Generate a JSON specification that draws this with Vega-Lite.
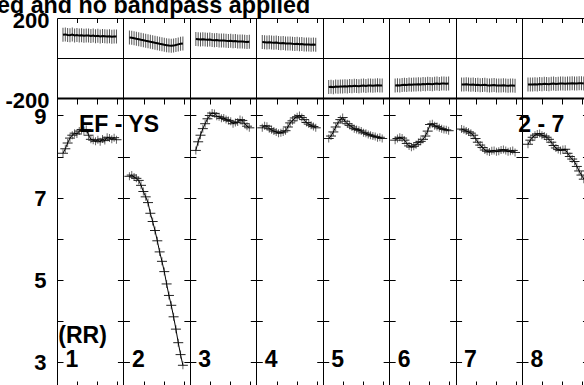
{
 "$schema": "https://vega.github.io/schema/vega-lite/v6.json",
 "width": 527,
 "height": 367,
 "autosize": {"type": "none"},
 "padding": {"left": 57, "top": 18, "right": 0, "bottom": 0},
 "title": {"text": "ed and no bandpass applied", "anchor": "start", "frame": "group", "dx": -60, "dy": 27, "offset": 0, "baseline": "alphabetic", "font": "Liberation Sans", "fontSize": 23.3, "fontWeight": "bold", "color": "black"},
 "datasets": {
  "obs": [
   {"p":1,"t":0.09,"a":8.08,"ph":116},{"p":1,"t":0.125,"a":8.19,"ph":118},{"p":1,"t":0.16,"a":8.33,"ph":115},{"p":1,"t":0.195,"a":8.45,"ph":114},{"p":1,"t":0.23,"a":8.52,"ph":117},{"p":1,"t":0.265,"a":8.57,"ph":113},{"p":1,"t":0.3,"a":8.55,"ph":115},{"p":1,"t":0.335,"a":8.62,"ph":112},{"p":1,"t":0.37,"a":8.66,"ph":114},{"p":1,"t":0.405,"a":8.63,"ph":111},{"p":1,"t":0.44,"a":8.66,"ph":113},{"p":1,"t":0.475,"a":8.52,"ph":112},{"p":1,"t":0.51,"a":8.42,"ph":110},{"p":1,"t":0.545,"a":8.4,"ph":112},{"p":1,"t":0.58,"a":8.37,"ph":109},{"p":1,"t":0.615,"a":8.41,"ph":111},{"p":1,"t":0.65,"a":8.36,"ph":108},{"p":1,"t":0.685,"a":8.43,"ph":110},{"p":1,"t":0.72,"a":8.39,"ph":109},{"p":1,"t":0.755,"a":8.47,"ph":107},{"p":1,"t":0.79,"a":8.45,"ph":109},{"p":1,"t":0.825,"a":8.42,"ph":106},{"p":1,"t":0.86,"a":8.46,"ph":108},{"p":1,"t":0.895,"a":8.41,"ph":107},
   {"p":2,"t":1.09,"a":7.52,"ph":103},{"p":2,"t":1.125,"a":7.55,"ph":101},{"p":2,"t":1.16,"a":7.5,"ph":99},{"p":2,"t":1.195,"a":7.47,"ph":96},{"p":2,"t":1.23,"a":7.42,"ph":94},{"p":2,"t":1.265,"a":7.3,"ph":91},{"p":2,"t":1.3,"a":7.15,"ph":89},{"p":2,"t":1.335,"a":7.02,"ph":86},{"p":2,"t":1.37,"a":6.88,"ph":84},{"p":2,"t":1.405,"a":6.62,"ph":81},{"p":2,"t":1.44,"a":6.42,"ph":79},{"p":2,"t":1.475,"a":6.2,"ph":76},{"p":2,"t":1.51,"a":5.95,"ph":74},{"p":2,"t":1.545,"a":5.68,"ph":71},{"p":2,"t":1.58,"a":5.45,"ph":69},{"p":2,"t":1.615,"a":5.2,"ph":66},{"p":2,"t":1.65,"a":4.9,"ph":64},{"p":2,"t":1.685,"a":4.62,"ph":62},{"p":2,"t":1.72,"a":4.38,"ph":61},{"p":2,"t":1.755,"a":4.1,"ph":62},{"p":2,"t":1.79,"a":3.8,"ph":65},{"p":2,"t":1.825,"a":3.47,"ph":68},{"p":2,"t":1.86,"a":3.18,"ph":71},{"p":2,"t":1.895,"a":2.92,"ph":73},
   {"p":3,"t":2.09,"a":8.15,"ph":95},{"p":3,"t":2.125,"a":8.36,"ph":94},{"p":3,"t":2.16,"a":8.52,"ph":93},{"p":3,"t":2.195,"a":8.68,"ph":94},{"p":3,"t":2.23,"a":8.8,"ph":92},{"p":3,"t":2.265,"a":8.92,"ph":91},{"p":3,"t":2.3,"a":9.0,"ph":92},{"p":3,"t":2.335,"a":9.06,"ph":90},{"p":3,"t":2.37,"a":9.05,"ph":89},{"p":3,"t":2.405,"a":8.98,"ph":90},{"p":3,"t":2.44,"a":8.97,"ph":88},{"p":3,"t":2.475,"a":8.93,"ph":87},{"p":3,"t":2.51,"a":8.94,"ph":88},{"p":3,"t":2.545,"a":8.9,"ph":86},{"p":3,"t":2.58,"a":8.88,"ph":85},{"p":3,"t":2.615,"a":8.86,"ph":86},{"p":3,"t":2.65,"a":8.8,"ph":84},{"p":3,"t":2.685,"a":8.83,"ph":85},{"p":3,"t":2.72,"a":8.84,"ph":83},{"p":3,"t":2.755,"a":8.9,"ph":82},{"p":3,"t":2.79,"a":8.88,"ph":83},{"p":3,"t":2.825,"a":8.8,"ph":81},{"p":3,"t":2.86,"a":8.74,"ph":80},{"p":3,"t":2.895,"a":8.7,"ph":81},
   {"p":4,"t":3.09,"a":8.7,"ph":80},{"p":4,"t":3.125,"a":8.75,"ph":79},{"p":4,"t":3.16,"a":8.74,"ph":78},{"p":4,"t":3.195,"a":8.68,"ph":79},{"p":4,"t":3.23,"a":8.65,"ph":77},{"p":4,"t":3.265,"a":8.62,"ph":76},{"p":4,"t":3.3,"a":8.6,"ph":77},{"p":4,"t":3.335,"a":8.57,"ph":75},{"p":4,"t":3.37,"a":8.58,"ph":74},{"p":4,"t":3.405,"a":8.6,"ph":75},{"p":4,"t":3.44,"a":8.63,"ph":73},{"p":4,"t":3.475,"a":8.72,"ph":72},{"p":4,"t":3.51,"a":8.82,"ph":73},{"p":4,"t":3.545,"a":8.87,"ph":71},{"p":4,"t":3.58,"a":8.94,"ph":70},{"p":4,"t":3.615,"a":8.97,"ph":71},{"p":4,"t":3.65,"a":9.0,"ph":69},{"p":4,"t":3.685,"a":8.95,"ph":70},{"p":4,"t":3.72,"a":8.9,"ph":68},{"p":4,"t":3.755,"a":8.83,"ph":67},{"p":4,"t":3.79,"a":8.79,"ph":68},{"p":4,"t":3.825,"a":8.76,"ph":66},{"p":4,"t":3.86,"a":8.73,"ph":67},{"p":4,"t":3.895,"a":8.7,"ph":66},
   {"p":5,"t":4.09,"a":8.44,"ph":-145},{"p":5,"t":4.125,"a":8.5,"ph":-144},{"p":5,"t":4.16,"a":8.6,"ph":-146},{"p":5,"t":4.195,"a":8.72,"ph":-143},{"p":5,"t":4.23,"a":8.82,"ph":-144},{"p":5,"t":4.265,"a":8.9,"ph":-142},{"p":5,"t":4.3,"a":8.95,"ph":-143},{"p":5,"t":4.335,"a":8.86,"ph":-141},{"p":5,"t":4.37,"a":8.8,"ph":-142},{"p":5,"t":4.405,"a":8.76,"ph":-140},{"p":5,"t":4.44,"a":8.72,"ph":-141},{"p":5,"t":4.475,"a":8.68,"ph":-139},{"p":5,"t":4.51,"a":8.66,"ph":-140},{"p":5,"t":4.545,"a":8.64,"ph":-141},{"p":5,"t":4.58,"a":8.62,"ph":-139},{"p":5,"t":4.615,"a":8.58,"ph":-138},{"p":5,"t":4.65,"a":8.57,"ph":-140},{"p":5,"t":4.685,"a":8.54,"ph":-138},{"p":5,"t":4.72,"a":8.52,"ph":-137},{"p":5,"t":4.755,"a":8.5,"ph":-139},{"p":5,"t":4.79,"a":8.49,"ph":-137},{"p":5,"t":4.825,"a":8.46,"ph":-136},{"p":5,"t":4.86,"a":8.47,"ph":-138},{"p":5,"t":4.895,"a":8.44,"ph":-137},
   {"p":6,"t":5.09,"a":8.4,"ph":-137},{"p":6,"t":5.125,"a":8.44,"ph":-136},{"p":6,"t":5.16,"a":8.47,"ph":-137},{"p":6,"t":5.195,"a":8.45,"ph":-135},{"p":6,"t":5.23,"a":8.4,"ph":-134},{"p":6,"t":5.265,"a":8.32,"ph":-135},{"p":6,"t":5.3,"a":8.26,"ph":-133},{"p":6,"t":5.335,"a":8.23,"ph":-134},{"p":6,"t":5.37,"a":8.25,"ph":-132},{"p":6,"t":5.405,"a":8.29,"ph":-133},{"p":6,"t":5.44,"a":8.34,"ph":-131},{"p":6,"t":5.475,"a":8.37,"ph":-132},{"p":6,"t":5.51,"a":8.42,"ph":-130},{"p":6,"t":5.545,"a":8.5,"ph":-131},{"p":6,"t":5.58,"a":8.62,"ph":-129},{"p":6,"t":5.615,"a":8.78,"ph":-130},{"p":6,"t":5.65,"a":8.8,"ph":-131},{"p":6,"t":5.685,"a":8.75,"ph":-129},{"p":6,"t":5.72,"a":8.73,"ph":-128},{"p":6,"t":5.755,"a":8.7,"ph":-130},{"p":6,"t":5.79,"a":8.68,"ph":-128},{"p":6,"t":5.825,"a":8.66,"ph":-127},{"p":6,"t":5.86,"a":8.65,"ph":-129},{"p":6,"t":5.895,"a":8.63,"ph":-128},
   {"p":7,"t":6.09,"a":8.67,"ph":-132},{"p":7,"t":6.125,"a":8.65,"ph":-133},{"p":7,"t":6.16,"a":8.62,"ph":-131},{"p":7,"t":6.195,"a":8.6,"ph":-133},{"p":7,"t":6.23,"a":8.57,"ph":-134},{"p":7,"t":6.265,"a":8.52,"ph":-133},{"p":7,"t":6.3,"a":8.44,"ph":-135},{"p":7,"t":6.335,"a":8.35,"ph":-134},{"p":7,"t":6.37,"a":8.28,"ph":-136},{"p":7,"t":6.405,"a":8.22,"ph":-135},{"p":7,"t":6.44,"a":8.16,"ph":-134},{"p":7,"t":6.475,"a":8.13,"ph":-136},{"p":7,"t":6.51,"a":8.11,"ph":-137},{"p":7,"t":6.545,"a":8.14,"ph":-136},{"p":7,"t":6.58,"a":8.15,"ph":-135},{"p":7,"t":6.615,"a":8.12,"ph":-137},{"p":7,"t":6.65,"a":8.13,"ph":-138},{"p":7,"t":6.685,"a":8.16,"ph":-137},{"p":7,"t":6.72,"a":8.17,"ph":-136},{"p":7,"t":6.755,"a":8.15,"ph":-138},{"p":7,"t":6.79,"a":8.12,"ph":-139},{"p":7,"t":6.825,"a":8.13,"ph":-138},{"p":7,"t":6.86,"a":8.15,"ph":-137},{"p":7,"t":6.895,"a":8.1,"ph":-139},
   {"p":8,"t":7.09,"a":8.3,"ph":-133},{"p":8,"t":7.125,"a":8.4,"ph":-132},{"p":8,"t":7.16,"a":8.47,"ph":-133},{"p":8,"t":7.195,"a":8.52,"ph":-131},{"p":8,"t":7.23,"a":8.55,"ph":-132},{"p":8,"t":7.265,"a":8.56,"ph":-130},{"p":8,"t":7.3,"a":8.52,"ph":-131},{"p":8,"t":7.335,"a":8.5,"ph":-129},{"p":8,"t":7.37,"a":8.47,"ph":-130},{"p":8,"t":7.405,"a":8.42,"ph":-131},{"p":8,"t":7.44,"a":8.35,"ph":-129},{"p":8,"t":7.475,"a":8.27,"ph":-128},{"p":8,"t":7.51,"a":8.21,"ph":-130},{"p":8,"t":7.545,"a":8.17,"ph":-129},{"p":8,"t":7.58,"a":8.15,"ph":-128},{"p":8,"t":7.615,"a":8.17,"ph":-127},{"p":8,"t":7.65,"a":8.18,"ph":-129},{"p":8,"t":7.685,"a":8.08,"ph":-128},{"p":8,"t":7.72,"a":8.0,"ph":-127},{"p":8,"t":7.755,"a":7.94,"ph":-126},{"p":8,"t":7.79,"a":7.88,"ph":-128},{"p":8,"t":7.825,"a":7.76,"ph":-127},{"p":8,"t":7.86,"a":7.65,"ph":-126},{"p":8,"t":7.895,"a":7.55,"ph":-126},{"p":8,"t":7.93,"a":7.45,"ph":-127}
  ],
  "notes": [
   {"txt":"EF - YS","t":0.33,"a":8.6},
   {"txt":"2 - 7","t":6.945,"a":8.6},
   {"txt":"(RR)","t":0.02,"a":3.47}
  ]
 },
 "encoding": {
  "x": {
   "field": "t", "type": "quantitative",
   "scale": {"domain": [0, 7.933], "nice": false, "zero": false},
   "axis": {
    "values": [0,0.305,0.606,0.907,1,1.305,1.606,1.907,2,2.305,2.606,2.907,3,3.305,3.606,3.907,4,4.305,4.606,4.907,5,5.305,5.606,5.907,6,6.305,6.606,6.907,7,7.305,7.606,7.907],
    "labelExpr": "datum.value % 1 == 0 ? '' + (datum.value + 1) : ''",
    "labelAlign": "left", "labelBaseline": "top", "labelPadding": -37, "labelOffset": 8,
    "labelFlush": false, "labelOverlap": false, "labelBound": false,
    "labelFontSize": 23,
    "ticks": false, "domain": false, "title": null,
    "grid": true, "gridColor": "black", "gridOpacity": 1, "gridWidth": 1,
    "gridDash": {"condition": {"test": "datum.value % 1 == 0", "value": []}, "value": [4.5, 75.5, 6, 277, 4.5, 100]}
   }
  }
 },
 "layer": [
  {
   "data": {"name": "obs"},
   "encoding": {
    "y": {
     "field": "ph", "type": "quantitative",
     "scale": {"domain": [-1635, 200], "nice": false, "zero": false},
     "axis": {
      "orient": "left", "values": [-200, 0, 200],
      "labelExpr": "datum.value == 0 ? '' : '' + datum.value",
      "ticks": false, "domain": false, "title": null,
      "grid": true, "gridColor": "black", "gridOpacity": 1,
      "gridWidth": {"condition": {"test": "datum.value == -200", "value": 2}, "value": 1},
      "labelPadding": 8, "labelOffset": 2
     }
    }
   },
   "layer": [
    {"mark": {"type": "tick", "orient": "vertical", "size": 14, "thickness": 1, "color": "#555555", "opacity": 1}},
    {"mark": {"type": "line", "color": "black", "strokeWidth": 2}, "encoding": {"detail": {"field": "p", "type": "nominal"}}}
   ]
  },
  {
   "encoding": {
    "y": {
     "field": "a", "type": "quantitative",
     "scale": {"domain": [2.44, 11.373], "nice": false, "zero": false},
     "axis": {
      "orient": "left", "values": [3, 4, 5, 6, 7, 8, 9],
      "labelExpr": "datum.value % 2 == 1 ? '' + datum.value : ''",
      "ticks": false, "domain": false, "title": null,
      "grid": true, "gridColor": "black", "gridOpacity": 1, "gridWidth": 1,
      "gridDash": [12, 54.43], "gridDashOffset": 6,
      "labelPadding": 11, "labelOffset": 1
     }
    }
   },
   "layer": [
    {"data": {"name": "obs"}, "mark": {"type": "tick", "orient": "vertical", "size": 8, "thickness": 1, "color": "#666666", "opacity": 1}},
    {"data": {"name": "obs"}, "mark": {"type": "tick", "orient": "horizontal", "size": 10, "thickness": 1, "color": "#222222", "opacity": 1}},
    {"data": {"name": "obs"}, "mark": {"type": "line", "color": "black", "strokeWidth": 1}, "encoding": {"detail": {"field": "p", "type": "nominal"}}},
    {
     "data": {"name": "notes"},
     "mark": {"type": "text", "align": "left", "baseline": "alphabetic", "font": "Liberation Sans", "fontSize": 23, "fontWeight": "bold", "color": "black"},
     "encoding": {"text": {"field": "txt", "type": "nominal"}}
    }
   ]
  }
 ],
 "resolve": {"scale": {"y": "independent"}},
 "config": {
  "view": {"stroke": null},
  "axis": {"labelFont": "Liberation Sans", "labelFontWeight": "bold", "labelFontSize": 22, "labelColor": "black"}
 }
}
